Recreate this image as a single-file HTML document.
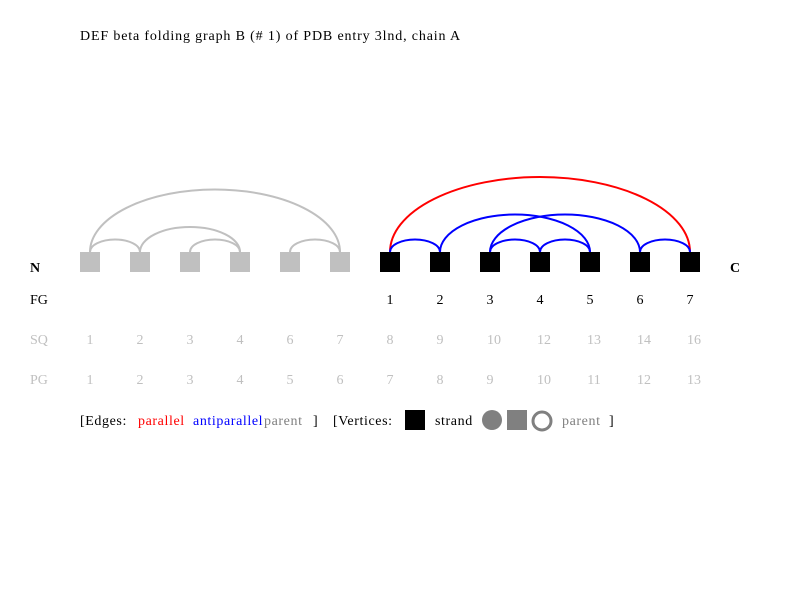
<!DOCTYPE html>
<html><head><meta charset="utf-8"><style>
body{margin:0;background:#fff}
svg text{font-family:"Liberation Serif",serif;font-size:14px}
</style></head><body>
<svg width="800" height="600">
<rect width="800" height="600" fill="#fff"/>
<text x="80" y="40" letter-spacing="0.85">DEF beta folding graph B (# 1) of PDB entry 3lnd, chain A</text>
<g id="arcs"></g><g id="verts"></g><g id="labels"></g>
<text x="30" y="272" font-weight="bold">N</text>
<text x="730" y="272" font-weight="bold">C</text>
<text x="30" y="304">FG</text>
<text x="30" y="344" fill="#c0c0c0">SQ</text>
<text x="30" y="384" fill="#c0c0c0">PG</text>
<g letter-spacing="0.6">
<text x="80" y="425">[Edges:</text>
<text x="138" y="425" fill="#f00">parallel</text>
<text x="193" y="425" fill="#00f">antiparallel</text>
<text x="264" y="425" fill="#808080">parent</text>
<text x="313" y="425">]</text>
<text x="333" y="425">[Vertices:</text>
<rect x="405" y="410" width="20" height="20" fill="#000"/>
<text x="435" y="425">strand</text>
<circle cx="492" cy="420" r="10" fill="#808080"/>
<rect x="507" y="410" width="20" height="20" fill="#808080"/>
<circle cx="542" cy="421" r="9" fill="none" stroke="#808080" stroke-width="3"/>
<text x="562" y="425" fill="#808080">parent</text>
<text x="609" y="425">]</text>
</g>
</svg>
<script>
const fgLabels=["","","","","","","1","2","3","4","5","6","7"];
const sqLabels=["1","2","3","4","6","7","8","9","10","12","13","14","16"];
const pgLabels=["1","2","3","4","5","6","7","8","9","10","11","12","13"];
const inFG=[0,0,0,0,0,0,1,1,1,1,1,1,1];
const edgeFrom=[0,0,1,2,4,6,6,7,8,8,9,11];
const edgeTo=[5,1,3,3,5,12,7,10,9,11,10,12];
const edgeType=["parent","parent","parent","parent","parent","parallel","anti","anti","anti","anti","anti","anti"];
const NS="http://www.w3.org/2000/svg";
const xPos=i=>90+i*50;
const topY=252;
const colors={parent:"#c0c0c0",parallel:"#f00",anti:"#00f"};
const arcs=document.getElementById("arcs"),verts=document.getElementById("verts"),labels=document.getElementById("labels");
edgeFrom.forEach((f,k)=>{
 const x1=xPos(f),x2=xPos(edgeTo[k]),rx=(x2-x1)/2,ry=(x2-x1)/4;
 const p=document.createElementNS(NS,"path");
 p.setAttribute("d",`M${x1} ${topY} A${rx} ${ry} 0 0 1 ${x2} ${topY}`);
 p.setAttribute("fill","none");p.setAttribute("stroke",colors[edgeType[k]]);p.setAttribute("stroke-width","2");
 
 
 arcs.appendChild(p);
});
pgLabels.forEach((l,i)=>{
 const r=document.createElementNS(NS,"rect");
 r.setAttribute("x",xPos(i)-10);r.setAttribute("y",topY);r.setAttribute("width",20);r.setAttribute("height",20);
 r.setAttribute("fill",inFG[i]?"#000":"#c0c0c0");
 
 
 verts.appendChild(r);
 [[fgLabels[i],304,"#000"],[sqLabels[i],344,"#c0c0c0"],[l,384,"#c0c0c0"]].forEach(([t,y,c])=>{
  if(!t)return;
  const tx=document.createElementNS(NS,"text");
  tx.setAttribute("x",xPos(i)+(t.length>1?4:0));tx.setAttribute("y",y);tx.setAttribute("fill",c);tx.setAttribute("text-anchor","middle");
  tx.textContent=t;
  
  
  labels.appendChild(tx);
 });
});
</script>
</body></html>
